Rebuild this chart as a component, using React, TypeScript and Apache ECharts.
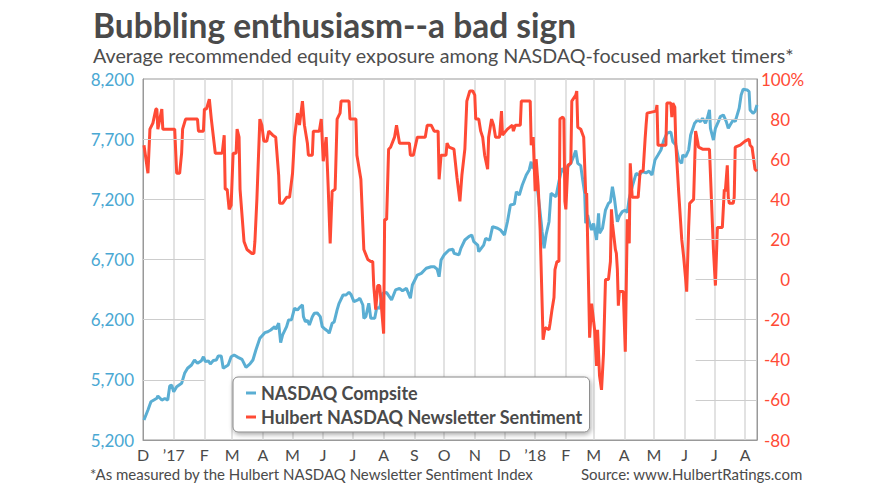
import React, { useEffect, useRef } from 'react';
import * as echarts from 'echarts';

// Day axis: one category per calendar day starting 1 Dec 2016
const START_DATE = '2016-12-01';
const TOTAL_DAYS = 620;
const monthLetters = ['J', 'F', 'M', 'A', 'M', 'J', 'J', 'A', 'S', 'O', 'N', 'D'];

// NASDAQ Composite (days after 1 Dec 2016, index level)
const nasdaqDay = [1, 5, 8, 14, 15, 19, 22, 25, 27, 29, 31, 34, 39, 42, 45, 49, 52, 55, 59, 61, 63, 66, 68, 71, 74, 76, 79, 81, 86, 89, 92, 96, 100, 104, 108, 111, 114, 118, 123, 126, 129, 133, 134, 137, 139, 141, 145, 147, 150, 153, 156, 158, 161, 162, 164, 166, 168, 171, 173, 176, 179, 181, 184, 187, 188, 191, 193, 196, 198, 202, 205, 208, 210, 213, 217, 219, 222, 223, 225, 228, 230, 234, 236, 239, 242, 246, 251, 255, 259, 262, 266, 270, 272, 277, 281, 286, 291, 294, 297, 299, 301, 304, 309, 313, 314, 319, 321, 325, 329, 332, 334, 338, 339, 344, 346, 350, 353, 358, 361, 365, 368, 371, 375, 377, 380, 383, 387, 390, 392, 393, 394, 397, 399, 402, 403, 405, 407, 410, 412, 417, 420, 423, 425, 429, 432, 435, 437, 439, 442, 444, 446, 447, 449, 450, 453, 455, 458, 460, 461, 464, 467, 470, 472, 474, 476, 479, 481, 484, 487, 489, 491, 494, 498, 501, 504, 508, 511, 514, 517, 520, 523, 526, 529, 533, 535, 538, 541, 544, 545, 548, 551, 553, 557, 560, 563, 565, 568, 570, 572, 573, 576, 578, 581, 583, 586, 589, 591, 593, 596, 598, 602, 604, 606, 610, 612, 613, 616, 618, 620];
const nasdaqVal = [5366, 5449, 5518, 5547, 5566, 5532, 5545, 5532, 5649, 5655, 5601, 5643, 5671, 5754, 5796, 5823, 5865, 5837, 5859, 5892, 5851, 5858, 5832, 5860, 5865, 5898, 5898, 5796, 5823, 5892, 5906, 5887, 5870, 5804, 5832, 5865, 5948, 6045, 6092, 6100, 6114, 6142, 6120, 6170, 6009, 6073, 6142, 6197, 6200, 6295, 6280, 6300, 6322, 6225, 6183, 6195, 6156, 6225, 6253, 6255, 6225, 6142, 6120, 6101, 6087, 6170, 6180, 6281, 6336, 6405, 6405, 6428, 6410, 6350, 6365, 6378, 6322, 6211, 6225, 6336, 6211, 6211, 6300, 6295, 6419, 6425, 6364, 6447, 6460, 6440, 6460, 6378, 6488, 6571, 6585, 6627, 6640, 6640, 6620, 6557, 6696, 6738, 6779, 6785, 6752, 6738, 6793, 6862, 6890, 6904, 6848, 6820, 6765, 6820, 6876, 6860, 6973, 6960, 6945, 6904, 7014, 7153, 7160, 7264, 7236, 7319, 7402, 7444, 7513, 7458, 7486, 7388, 7236, 7014, 6931, 6793, 6904, 7014, 7250, 7222, 7347, 7458, 7430, 7471, 7499, 7560, 7605, 7499, 7480, 7361, 7250, 7001, 7070, 7028, 6945, 7000, 6862, 7084, 6918, 6960, 7111, 7167, 7180, 7305, 7209, 7014, 7060, 7098, 7110, 7090, 7209, 7305, 7416, 7400, 7430, 7420, 7435, 7402, 7527, 7568, 7610, 7693, 7749, 7760, 7679, 7651, 7527, 7499, 7568, 7554, 7610, 7735, 7832, 7860, 7846, 7874, 7832, 7880, 7943, 7790, 7693, 7790, 7846, 7887, 7901, 7846, 7790, 7820, 7860, 7846, 7957, 8067, 8114, 8109, 8095, 7943, 7915, 7930, 7984];

// Hulbert NASDAQ Newsletter Sentiment (days after 1 Dec 2016, %)
const sentDay = [1, 5, 7, 10, 13, 14, 15, 19, 20, 32, 34, 37, 39, 40, 43, 55, 56, 61, 62, 64, 67, 69, 73, 80, 82, 83, 85, 87, 89, 91, 94, 95, 97, 98, 102, 105, 110, 112, 113, 115, 118, 120, 122, 125, 127, 131, 134, 137, 138, 141, 145, 148, 151, 153, 156, 158, 161, 163, 166, 167, 171, 172, 178, 180, 182, 185, 187, 189, 191, 194, 196, 199, 200, 208, 209, 215, 216, 220, 223, 227, 230, 232, 233, 235, 237, 239, 241, 243, 244, 246, 248, 250, 254, 256, 259, 269, 270, 273, 277, 285, 287, 291, 294, 298, 299, 301, 306, 307, 309, 314, 317, 320, 322, 325, 327, 330, 333, 335, 336, 339, 341, 343, 345, 348, 349, 352, 354, 356, 360, 362, 363, 368, 373, 374, 376, 381, 382, 391, 392, 394, 396, 397, 399, 401, 404, 406, 410, 411, 413, 415, 416, 418, 420, 421, 424, 425, 426, 427, 429, 432, 433, 437, 438, 439, 442, 445, 447, 448, 451, 453, 456, 458, 459, 461, 463, 465, 467, 470, 472, 473, 474, 477, 478, 479, 480, 481, 485, 487, 489, 491, 492, 494, 500, 502, 505, 507, 508, 509, 518, 519, 520, 528, 529, 533, 534, 535, 537, 538, 541, 544, 546, 548, 549, 551, 552, 556, 558, 560, 561, 565, 572, 574, 576, 578, 580, 585, 587, 588, 590, 591, 592, 596, 597, 598, 603, 608, 612, 613, 615, 618, 620];
const sentPct = [67, 53, 75, 78, 85, 85, 75, 85, 75, 75, 53, 53, 63, 75, 80, 80, 74, 74, 85, 85, 90, 80, 63, 63, 72, 45, 45, 35, 37, 63, 63, 75, 71, 45, 19, 15, 13, 13, 19, 40, 80, 77, 69, 69, 74, 72, 71, 52, 38, 38, 41, 41, 53, 71, 83, 77, 89, 77, 68, 62, 62, 74, 74, 80, 59, 71, 46, 18, 44, 45, 80, 83, 89, 89, 80, 80, 62, 50, 15, 10, 9, 9, -3, -15, -3, -3, -15, -27, 30, 30, 65, 66, 71, 77, 68, 68, 62, 62, 71, 71, 77, 77, 74, 74, 50, 62, 62, 68, 66, 65, 51, 39, 52, 65, 89, 94, 94, 92, 80, 80, 74, 71, 62, 55, 71, 80, 77, 71, 71, 84, 72, 75, 77, 74, 77, 77, 89, 89, 67, 71, 44, 60, 47, 25, -30, -24, -25, -22, -15, -9, 5, 9, 9, 80, 81, 80, 39, 35, 57, 58, 89, 92, 94, 76, 75, 71, 43, 43, -29, -12, -25, -43, -25, -48, -55, -37, 0, 0, 9, 35, 28, 15, 13, 5, -13, -6, -6, -36, 30, 18, 58, 41, 41, 54, 54, 70, 77, 83, 84, 87, 67, 67, 88, 88, 81, 88, 86, 68, 43, 20, 11, 0, -6, 26, 38, 40, 74, 69, 66, 65, 65, 40, 15, -3, 26, 26, 45, 44, 57, 41, 38, 38, 41, 66, 67, 69, 70, 67, 66, 55, 54];

// Axis ticks
const leftTicks = [5200, 5700, 6200, 6700, 7200, 7700, 8200];
const rightTicks = [-80, -60, -40, -20, 0, 20, 40, 60, 80, 100];
const leftGridEndDay = 62;   // left-axis grid lines run to 1 Feb 2017
const rightGridStartDay = 558; // right-axis grid lines start mid-June 2018

const TITLE = 'Bubbling enthusiasm--a bad sign';
const SUBTITLE = 'Average recommended equity exposure among NASDAQ-focused market timers*';
const FOOTNOTE = '*As measured by the Hulbert NASDAQ Newsletter Sentiment Index';
const SOURCE = 'Source: www.HulbertRatings.com';
const NASDAQ_NAME = 'NASDAQ Compsite';
const SENT_NAME = 'Hulbert NASDAQ Newsletter Sentiment';

const BLUE = '#5aaed3';
const RED = '#ff4a35';
const FONT = 'Lato';

export default function App() {
  const ref = useRef<HTMLDivElement>(null);
  useEffect(() => {
    document.body.style.margin = '0';
    if (!ref.current) return;
    const chart = echarts.init(ref.current, undefined, { renderer: 'svg' });

    const base = leftTicks[0];
    const start = new Date(START_DATE + 'T00:00:00Z').getTime();
    const categories: string[] = [];
    for (let i = 0; i <= TOTAL_DAYS; i++) {
      categories.push(new Date(start + i * 86400000).toISOString().slice(0, 10));
    }
    const isMonthStart = (v: string) => v.slice(8, 10) === '01';
    const monthLabel = (v: string) => {
      if (!isMonthStart(v)) return '';
      const m = +v.slice(5, 7);
      if (m === 1) return '\u2019' + v.slice(2, 4);
      return monthLetters[m - 1];
    };

    const gridLine = { color: '#cdcdcd', width: 1, type: 'solid' as const };

    chart.setOption({
      animation: false,
      title: {
        text: TITLE,
        subtext: SUBTITLE,
        left: 88,
        top: 3,
        itemGap: 3,
        textStyle: { fontFamily: FONT, fontWeight: 'bold', fontSize: 33.5, color: '#4a4a4a' },
        subtextStyle: { fontFamily: FONT, fontSize: 19.7, color: '#4d4d4d' },
      },
      legend: {
        orient: 'vertical',
        left: 233,
        top: 377,
        padding: [6, 7, 5, 13],
        itemGap: 4,
        itemWidth: 10,
        itemHeight: 3,
        icon: 'rect',
        backgroundColor: '#fff',
        borderColor: '#888',
        borderWidth: 1,
        borderRadius: 5,
        shadowBlur: 5,
        shadowColor: 'rgba(0,0,0,0.35)',
        shadowOffsetX: 1,
        shadowOffsetY: 2,
        textStyle: { fontFamily: FONT, fontWeight: 'bold', fontSize: 18, color: '#4a4a4a', lineHeight: 20 },
        data: [NASDAQ_NAME, SENT_NAME],
      },
      grid: {
        left: 143,
        right: 133,
        top: 79,
        bottom: 61,
        show: true,
        borderColor: '#999',
        borderWidth: 1,
      },
      xAxis: {
        type: 'category',
        data: categories,
        boundaryGap: false,
        axisLine: { show: true, lineStyle: { color: '#999', width: 1 } },
        axisTick: { show: false },
        axisLabel: {
          interval: (_i: number, v: string) => isMonthStart(v),
          formatter: (v: string) => monthLabel(v),
          color: '#4a4a4a',
          fontFamily: FONT,
          fontSize: 16,
          lineHeight: 16,
          margin: 6,
        },
        splitLine: {
          show: true,
          interval: (i: number, v: string) => i > 0 && isMonthStart(v),
          lineStyle: { color: '#d9d9d9', width: 1.5 },
        },
      },
      yAxis: [
        {
          type: 'value',
          position: 'left',
          min: 0,
          max: leftTicks[leftTicks.length - 1] - base,
          interval: leftTicks[1] - leftTicks[0],
          axisLine: { show: true, lineStyle: { color: '#999', width: 1 } },
          axisTick: { show: false },
          splitLine: { show: false },
          axisLabel: {
            formatter: (v: number) => (v + base).toLocaleString('en-US'),
            color: '#4aa8d3',
            fontFamily: FONT,
            fontSize: 17,
            margin: 9,
          },
        },
        {
          type: 'value',
          position: 'right',
          min: rightTicks[0],
          max: rightTicks[rightTicks.length - 1],
          interval: rightTicks[1] - rightTicks[0],
          axisLine: { show: true, lineStyle: { color: '#999', width: 1 } },
          axisTick: { show: false },
          splitLine: { show: false },
          axisLabel: {
            align: 'right',
            margin: 33,
            formatter: (v: number) => (v === 100 ? '{h|100%}' : String(v)),
            color: RED,
            fontFamily: FONT,
            fontSize: 17,
            rich: {
              h: { width: 29, align: 'left', color: RED, fontFamily: FONT, fontSize: 17 },
            },
          },
        },
      ],
      series: [
        {
          name: NASDAQ_NAME,
          type: 'line',
          yAxisIndex: 0,
          showSymbol: false,
          z: 2,
          data: nasdaqDay.map((d, i) => [d, nasdaqVal[i] - base]),
          lineStyle: { color: BLUE, width: 3 },
          itemStyle: { color: BLUE },
          markLine: {
            silent: true,
            symbol: 'none',
            label: { show: false },
            lineStyle: gridLine,
            data: leftTicks.slice(1, -1).map((v) => [
              { coord: [0, v - base] },
              { coord: [leftGridEndDay, v - base] },
            ]),
          },
        },
        {
          name: SENT_NAME,
          type: 'line',
          yAxisIndex: 1,
          showSymbol: false,
          z: 3,
          data: sentDay.map((d, i) => [d, sentPct[i]]),
          lineStyle: { color: RED, width: 3 },
          itemStyle: { color: RED },
          markLine: {
            silent: true,
            symbol: 'none',
            label: { show: false },
            lineStyle: gridLine,
            data: rightTicks.slice(1, -1).map((v) => [
              { coord: [rightGridStartDay, v] },
              { coord: [TOTAL_DAYS, v] },
            ]),
          },
        },
      ],
      graphic: [
        {
          type: 'text',
          left: 90,
          top: 466,
          style: { text: FOOTNOTE, font: `15px ${FONT}`, fill: '#4a4a4a' },
        },
        {
          type: 'text',
          left: 581,
          top: 466,
          style: { text: SOURCE, font: `15px ${FONT}`, fill: '#4a4a4a' },
        },
      ],
    });
    return () => chart.dispose();
  }, []);
  return <div ref={ref} style={{ width: 890, height: 501 }} />;
}
